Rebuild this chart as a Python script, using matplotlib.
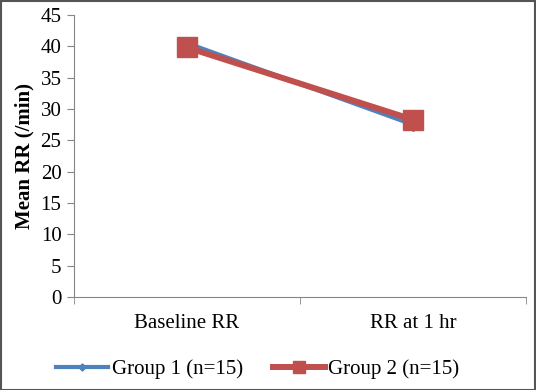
import matplotlib.pyplot as plt
from matplotlib.ticker import FixedLocator
from matplotlib.patches import Rectangle

# Dữ liệu
categories = ['Baseline RR', 'RR at 1 hr']
group1 = [40.5, 27.5]
group2 = [39.8, 28.3]
labels = ['Group 1 (n=15)', 'Group 2 (n=15)']

plt.rcParams['font.family'] = ['Liberation Serif', 'DejaVu Serif']
FS = 15

fig = plt.figure(figsize=(5.36, 3.9), dpi=100)
ax = fig.add_axes([0.138, 0.238, 0.843, 0.724])

x = range(len(categories))
ax.plot(x, group1, color='#4F81BD', lw=3, marker='D', markersize=6, label=labels[0])
ax.plot(x, group2, color='#C0504D', lw=4.3, marker='s', markersize=14, label=labels[1])

ax.set_xlim(-0.5, 1.5)
ax.set_ylim(0, 45)
ax.set_yticks(range(0, 46, 5))
ax.set_xticks(list(x))
ax.set_xticklabels(categories, fontsize=FS)
ax.xaxis.set_minor_locator(FixedLocator([-0.5, 0.5, 1.5]))
ax.tick_params(axis='x', which='major', length=0, pad=12)
ax.tick_params(axis='x', which='minor', length=5, color='#868686')
ax.tick_params(axis='y', length=5, color='#868686', labelsize=FS, pad=4)
ax.set_ylabel('Mean RR (/min)', fontsize=FS, fontweight='bold', labelpad=4)

for s in ['top', 'right']:
    ax.spines[s].set_visible(False)
for s in ['left', 'bottom']:
    ax.spines[s].set_color('#868686')

ax.legend(loc='center', bbox_to_anchor=(0.481, 0.054), bbox_transform=fig.transFigure,
          ncol=2, frameon=False, fontsize=FS, handlelength=2.5, handletextpad=0.15,
          columnspacing=1.45, markerscale=0.6, borderpad=0, borderaxespad=0)

# Khung viền
fig.patches.append(Rectangle((0.001, 0.001), 0.997, 0.997, transform=fig.transFigure,
                             fill=False, edgecolor='#555555', lw=1.5))

fig.savefig('out.png', dpi=100)
